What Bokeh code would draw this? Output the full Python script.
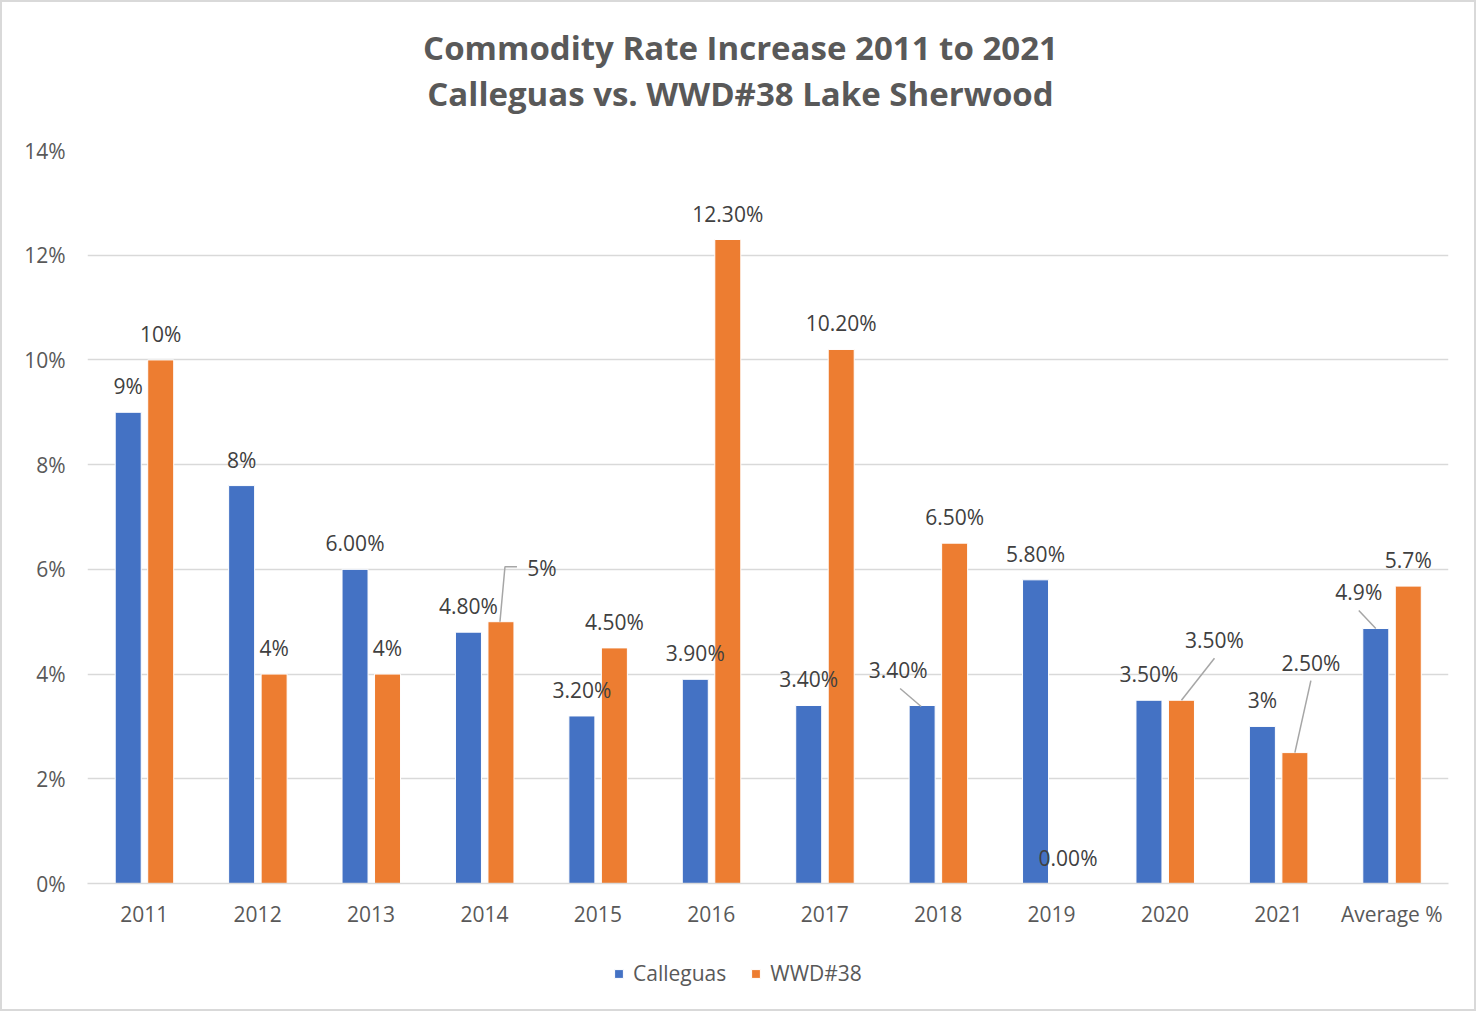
from bokeh.plotting import figure
from bokeh.models import (ColumnDataSource, Legend, LegendItem, Range1d)
from bokeh.layouts import column
from bokeh.core.properties import value
from bokeh.embed import file_html
from bokeh.resources import INLINE

# ---------------- data ----------------
categories = ["2011", "2012", "2013", "2014", "2015", "2016", "2017",
              "2018", "2019", "2020", "2021", "Average %"]
calleguas = [9.0, 7.6, 6.0, 4.8, 3.2, 3.9, 3.4, 3.4, 5.8, 3.5, 3.0, 4.87]
wwd38 = [10.0, 4.0, 4.0, 5.0, 4.5, 12.3, 10.2, 6.5, 0.0, 3.5, 2.5, 5.68]
calleguas_labels = ["9%", "8%", "6.00%", "4.80%", "3.20%", "3.90%", "3.40%",
                    "3.40%", "5.80%", "3.50%", "3%", "4.9%"]
wwd38_labels = ["10%", "4%", "4%", "5%", "4.50%", "12.30%", "10.20%",
                "6.50%", "0.00%", "3.50%", "2.50%", "5.7%"]
y_ticks = [0, 2, 4, 6, 8, 10, 12, 14]
title_lines = ["Commodity Rate Increase 2011 to 2021",
               "Calleguas vs. WWD#38 Lake Sherwood"]
series_names = ["Calleguas", "WWD#38"]

# ---------------- styling ----------------
BLUE = "#4472C4"
ORANGE = "#ED7D31"
GRID = "#D9D9D9"
TICK_TXT = "#595959"
LBL_TXT = "#404040"
FONT = "Open Sans"
BORDER = "2px solid #D9D9D9"
W = 1476
BL, BR = 85, 30          # shared left/right borders (column aligns them)
HEAD_H, MAIN_TOP, MAIN_BOT, LEG_H = 130, 20, 60, 68

FRAME_W, FRAME_H = W - BL - BR, 733
X0, X1 = -0.5, len(categories) - 0.5
Y0, Y1 = 0, 14
PX_X = FRAME_W / (X1 - X0)
PX_Y = FRAME_H / (Y1 - Y0)
BAR_W = 26 / PX_X
OFF_C = -16 / PX_X
OFF_W = 16.5 / PX_X

# label offsets in screen px (dx right, dy down) relative to top centre of bar
cal_dx = [0, 0, 0, 0, 0, 0, 0, -24, 0, 0, 0, -17]
cal_dy = [-26, -26, -26, -26, -26, -26, -26, -35, -26, -26, -26, -37]
wwd_dx = [0, 0, 0, 41, 0, 0, 0, 0, 0, 33, 16, 0]
wwd_dy = [-26, -26, -26, -54, -26, -26, -26, -26, -26, -60, -90, -26]

# leader lines: (series, index, list of px offsets from bar top centre)
leaders = [
    ("wwd", 3, [(-1, 0), (4, -55), (16, -55)]),
    ("cal", 7, [(-1, 1), (-22, -17)]),
    ("wwd", 9, [(0, 0), (33, -42)]),
    ("wwd", 10, [(0, 0), (16, -72)]),
    ("cal", 11, [(0, 0), (-17, -18)]),
]


def bare(fig):
    fig.outline_line_color = None
    fig.background_fill_color = "white"
    fig.border_fill_color = "white"
    fig.xgrid.grid_line_color = None
    fig.ygrid.grid_line_color = None


# ---------------- header (title) ----------------
head = figure(width=W, height=HEAD_H, output_backend="svg",
              toolbar_location=None, x_axis_type=None, y_axis_type=None,
              x_range=Range1d(BL, W - BR), y_range=Range1d(0, HEAD_H),
              min_border_left=BL, min_border_right=BR, min_border_top=0,
              min_border_bottom=0)
head.styles = {"border-left": BORDER, "border-right": BORDER,
               "border-top": BORDER}
head.outline_line_color = None
head.background_fill_color = "white"
head.border_fill_color = "white"
head.text(x=[738, 738], y=[HEAD_H - 45, HEAD_H - 91], text=title_lines,
          text_align="center", text_baseline="middle",
          text_font=value(FONT), text_font_size="33px",
          text_font_style="bold", text_color=TICK_TXT)

# ---------------- main chart ----------------
idx = list(range(len(categories)))
src_c = ColumnDataSource(dict(
    x=[i + OFF_C for i in idx], top=calleguas,
    lx=[i + OFF_C + dx / PX_X for i, dx in zip(idx, cal_dx)],
    ly=[v - dy / PX_Y for v, dy in zip(calleguas, cal_dy)],
    txt=calleguas_labels))
src_w = ColumnDataSource(dict(
    x=[i + OFF_W for i in idx], top=wwd38,
    lx=[i + OFF_W + dx / PX_X for i, dx in zip(idx, wwd_dx)],
    ly=[v - dy / PX_Y for v, dy in zip(wwd38, wwd_dy)],
    txt=wwd38_labels))

p = figure(width=W, height=MAIN_TOP + FRAME_H + MAIN_BOT, output_backend="svg",
           toolbar_location=None,
           x_range=Range1d(X0, X1), y_range=Range1d(Y0, Y1),
           min_border_left=BL, min_border_right=BR, min_border_top=MAIN_TOP,
           min_border_bottom=MAIN_BOT)
p.styles = {"border-left": BORDER, "border-right": BORDER}
p.outline_line_color = None
p.background_fill_color = "white"
p.border_fill_color = "white"

p.xgrid.grid_line_color = None
p.ygrid.ticker = y_ticks
p.ygrid.grid_line_color = GRID
p.ygrid.grid_line_width = 1.5

p.yaxis.ticker = y_ticks
p.yaxis.major_label_overrides = {t: f"{t}%" for t in y_ticks}
p.yaxis.axis_line_color = None
p.yaxis.major_tick_line_color = None
p.yaxis.minor_tick_line_color = None
p.yaxis.major_tick_out = 0
p.yaxis.major_tick_in = 0
p.yaxis.major_label_standoff = 22
p.yaxis.major_label_text_font = FONT
p.yaxis.major_label_text_font_size = "21px"
p.yaxis.major_label_text_color = TICK_TXT

p.xaxis.ticker = idx
p.xaxis.major_label_overrides = {i: c for i, c in zip(idx, categories)}
p.xaxis.axis_line_color = GRID
p.xaxis.axis_line_width = 1.5
p.xaxis.major_tick_line_color = None
p.xaxis.minor_tick_line_color = None
p.xaxis.major_tick_out = 0
p.xaxis.major_tick_in = 0
p.xaxis.major_label_standoff = 16
p.xaxis.major_label_text_font = FONT
p.xaxis.major_label_text_font_size = "21px"
p.xaxis.major_label_text_color = TICK_TXT

p.vbar(x="x", top="top", width=BAR_W, bottom=0, source=src_c,
       fill_color=BLUE, line_color="white", line_width=1)
p.vbar(x="x", top="top", width=BAR_W, bottom=0, source=src_w,
       fill_color=ORANGE, line_color="white", line_width=1)

xs, ys = [], []
for ser, i, pts in leaders:
    base_x = i + (OFF_C if ser == "cal" else OFF_W)
    base_y = calleguas[i] if ser == "cal" else wwd38[i]
    xs.append([base_x + dx / PX_X for dx, dy in pts])
    ys.append([base_y - dy / PX_Y for dx, dy in pts])
p.multi_line(xs=xs, ys=ys, line_color="#A6A6A6", line_width=1.5)

for src in (src_c, src_w):
    p.text(x="lx", y="ly", text="txt", source=src, text_align="center",
           text_baseline="middle", text_font_size="21px", text_color=LBL_TXT,
           text_font=value(FONT))

# ---------------- legend strip ----------------
lg = figure(width=W, height=LEG_H, output_backend="svg", toolbar_location=None,
            x_range=Range1d(0, 1), y_range=Range1d(0, 1),
            x_axis_type=None, y_axis_type=None,
            min_border_left=BL, min_border_right=BR, min_border_top=0,
            min_border_bottom=0)
lg.styles = {"border-left": BORDER, "border-right": BORDER,
             "border-bottom": BORDER}
lg.outline_line_color = None
lg.background_fill_color = "white"
lg.border_fill_color = "white"
# key renderers hold a point outside the visible range, only their swatch shows
k_c = lg.vbar(x=[-10], top=[-10], width=0.1, fill_color=BLUE, line_color="white")
k_w = lg.vbar(x=[-10], top=[-10], width=0.1, fill_color=ORANGE, line_color="white")
legend = Legend(items=[LegendItem(label=series_names[0], renderers=[k_c]),
                       LegendItem(label=series_names[1], renderers=[k_w])],
                orientation="horizontal", location=(526, 24),
                glyph_width=11, glyph_height=11, label_standoff=9, spacing=24,
                label_text_font=FONT, label_text_font_size="21px",
                label_text_color=TICK_TXT, border_line_color=None,
                background_fill_alpha=0, padding=4, margin=0)
lg.add_layout(legend, "center")

layout = column(head, p, lg, spacing=0)
open("out.html", "w").write(file_html(layout, INLINE))
